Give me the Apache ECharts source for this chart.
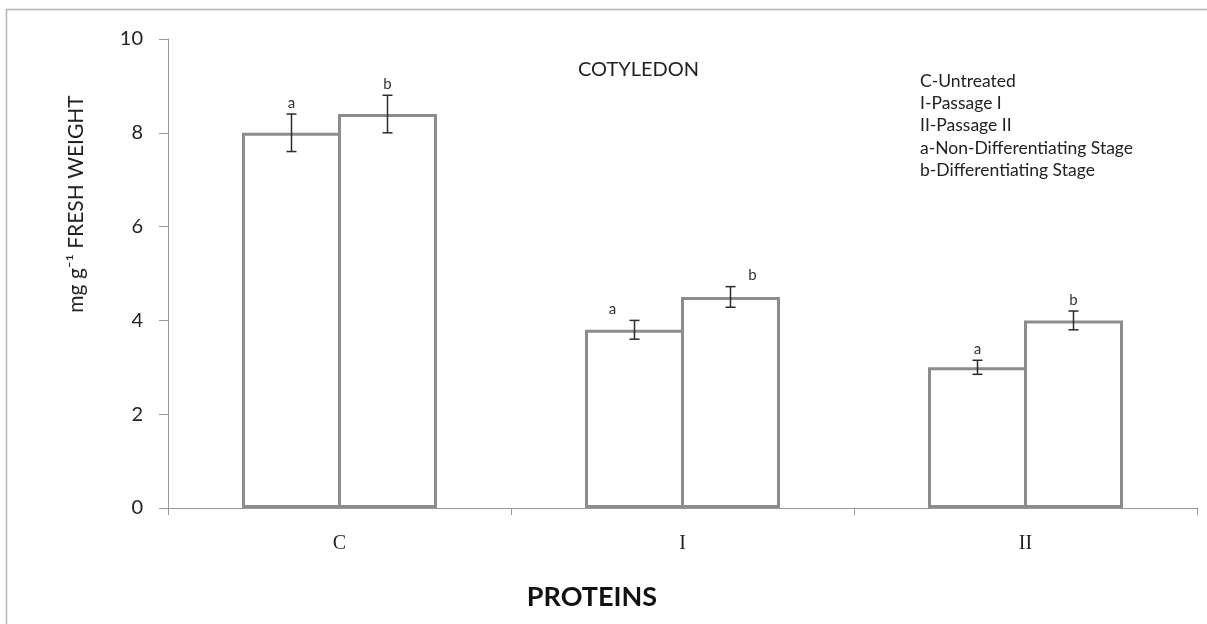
<!DOCTYPE html>
<html>
<head>
<meta charset="utf-8">
<script src="https://cdn.jsdelivr.net/npm/echarts@6/dist/echarts.min.js"></script>
<style>
  html, body { margin: 0; padding: 0; background: #fff; }
  #chart { width: 1207px; height: 624px; }
</style>
</head>
<body>
<div id="chart"></div>
<script>
// categories and values
const categories = ['C', 'I', 'II'];
const stageA = [8.0, 3.8, 3.0];   // a - non-differentiating
const stageB = [8.4, 4.5, 4.0];   // b - differentiating
const errA = [0.4, 0.2, 0.15];
const errB = [0.4, 0.22, 0.2];
const yTicks = [0, 2, 4, 6, 8, 10];
const notes = [
  'C-Untreated',
  'I-Passage I',
  'II-Passage II',
  'a-Non-Differentiating Stage',
  'b-Differentiating Stage'
];

const BAR_W = 99;
const OVERLAP = 3;            // bars share their middle border
const LETTER_SHIFT = [0, 22, 0]; // letters of group I sit off to the side
const FONT = 'Lato, "Open Sans", sans-serif';

function errData(vals, errs) {
  return vals.map((v, i) => [i, v, errs[i]]);
}

// error bar + letter for one bar series; side -1 = left bar, 1 = right bar
function errRender(side, letter) {
  return function (params, api) {
    const i = api.value(0);
    const v = api.value(1);
    const e = api.value(2);
    const c = api.coord([i, v]);
    const x = c[0] + side * (BAR_W - OVERLAP) / 2;
    const top = api.coord([i, v + e])[1];
    const bot = api.coord([i, v - e])[1];
    const st = { stroke: '#2a2a2a', lineWidth: 1.5 };
    return {
      type: 'group',
      children: [
        { type: 'line', shape: { x1: x, y1: top, x2: x, y2: bot }, style: st },
        { type: 'line', shape: { x1: x - 5, y1: top, x2: x + 5, y2: top }, style: st },
        { type: 'line', shape: { x1: x - 5, y1: bot, x2: x + 5, y2: bot }, style: st },
        {
          type: 'text',
          style: {
            x: x + side * LETTER_SHIFT[i], y: top - 11, text: letter,
            align: 'center', verticalAlign: 'middle',
            font: '15px ' + FONT, fill: '#333'
          }
        }
      ]
    };
  };
}

const chart = echarts.init(document.getElementById('chart'));

const option = {
  animation: false,
  backgroundColor: '#fff',
  grid: { left: 168, right: 10, top: 39, bottom: 116 },
  xAxis: {
    type: 'category',
    data: categories,
    axisLine: { lineStyle: { color: '#999', width: 1 } },
    axisTick: { show: true, length: 7, lineStyle: { color: '#999' } },
    axisLabel: {
      margin: 26,
      fontFamily: '"Liberation Serif", serif',
      fontSize: 20,
      color: '#222'
    }
  },
  yAxis: {
    type: 'value',
    min: 0,
    max: 10,
    interval: 2,
    splitLine: { show: false },
    axisLine: { show: true, lineStyle: { color: '#999', width: 1 } },
    axisTick: { show: true, length: 9, lineStyle: { color: '#999' } },
    axisLabel: {
      margin: 25,
      fontFamily: FONT,
      fontSize: 20,
      color: '#222',
      formatter: v => yTicks.includes(v) ? String(v) : ''
    }
  },
  series: [
    {
      name: 'a',
      type: 'bar',
      data: stageA,
      barWidth: BAR_W,
      barGap: (-OVERLAP / BAR_W * 100) + '%',
      itemStyle: { color: '#fff', borderColor: '#8c8c8c', borderWidth: 3 }
    },
    {
      name: 'b',
      type: 'bar',
      data: stageB,
      barWidth: BAR_W,
      itemStyle: { color: '#fff', borderColor: '#8c8c8c', borderWidth: 3 }
    },
    {
      type: 'custom',
      renderItem: errRender(-1, 'a'),
      data: errData(stageA, errA),
      encode: { x: 0, y: 1 },
      z: 5
    },
    {
      type: 'custom',
      renderItem: errRender(1, 'b'),
      data: errData(stageB, errB),
      encode: { x: 0, y: 1 },
      z: 5
    }
  ],
  graphic: [
    {
      type: 'rect',
      shape: { x: 6.5, y: 9.5, width: 1400, height: 800 },
      style: { fill: 'none', stroke: '#b4b4b4', lineWidth: 1.5 },
      silent: true,
      z: -10
    },
    {
      type: 'text',
      left: 578,
      top: 60,
      style: { text: 'COTYLEDON', font: '20px ' + FONT, fill: '#222' }
    },
    {
      type: 'text',
      left: 920,
      top: 70,
      style: { text: notes.join('\n'), font: '17.5px ' + FONT, lineHeight: 22.3, fill: '#222' }
    },
    {
      type: 'text',
      x: 76,
      y: 204,
      rotation: Math.PI / 2,
      style: {
        text: 'mg g⁻¹ FRESH WEIGHT',
        font: '21px ' + FONT,
        fill: '#222',
        align: 'center',
        verticalAlign: 'middle'
      }
    },
    {
      type: 'text',
      x: 592,
      y: 597,
      style: {
        text: 'PROTEINS',
        font: 'bold 27px ' + FONT,
        fill: '#111',
        align: 'center',
        verticalAlign: 'middle'
      }
    }
  ]
};

chart.setOption(option);
</script>
</body>
</html>
